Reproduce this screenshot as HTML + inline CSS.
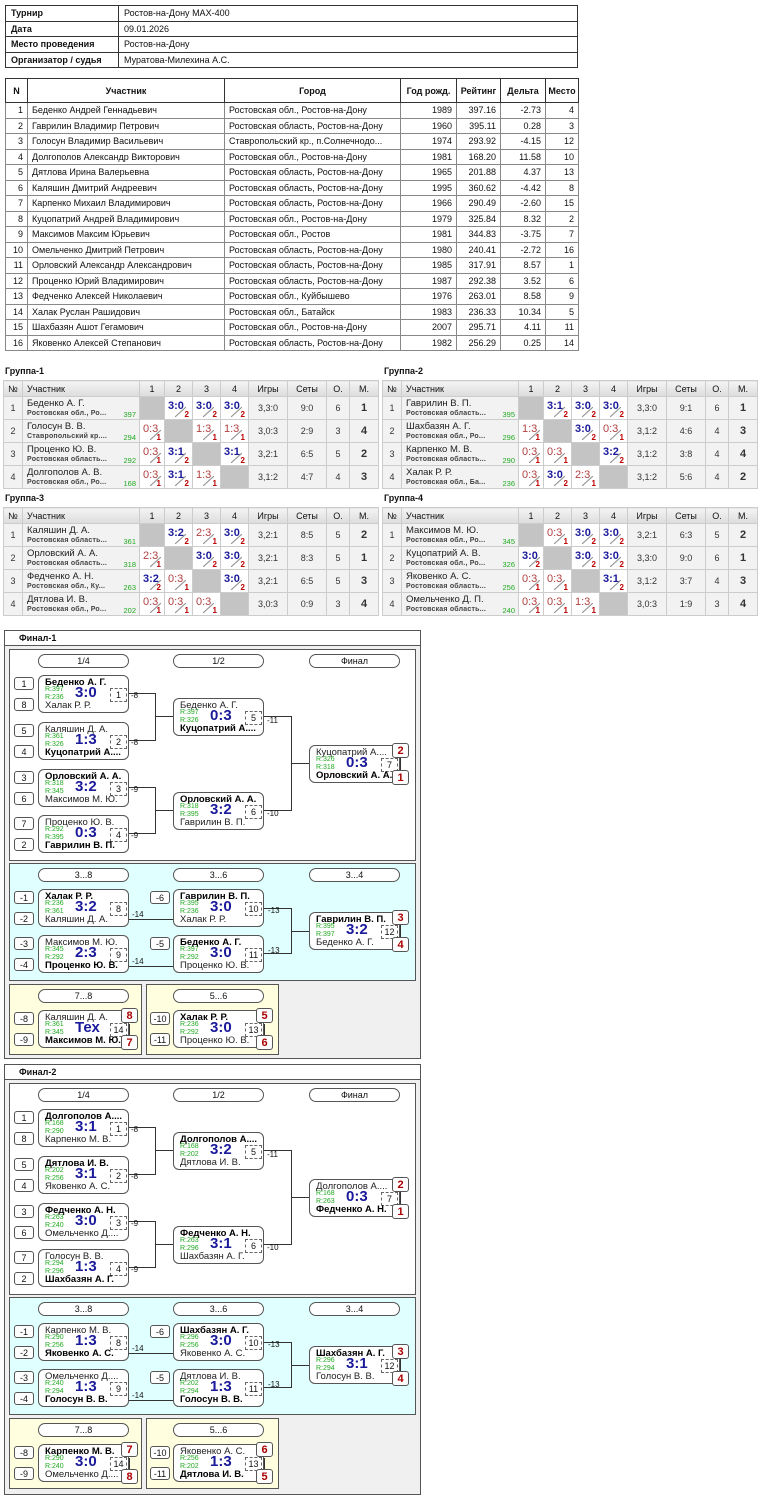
<!DOCTYPE html>
<html><head><meta charset="utf-8"><style>
*{box-sizing:border-box}
body{margin:0;width:759px;height:1499px;position:relative;background:#fff;font-family:"Liberation Sans",Arial,sans-serif;color:#111;overflow:hidden}
table{border-collapse:collapse;table-layout:fixed;position:absolute;font-size:9px}
.t1 td{border:1px solid #333;height:15.5px;padding:0 5px}
.t2 td{border:1px solid #888;height:15.5px;padding:0 4px;white-space:nowrap;overflow:hidden}
.t2 th{border:1px solid #333;height:24px;font-weight:bold}
.t2 tr td:first-child{text-align:right}
.r{text-align:right}.c{text-align:center}
.gt{position:absolute;font-size:9px;font-weight:bold}
.g td,.g th{border:1px solid #ccc;padding:0}
.g th{height:16px;background:linear-gradient(#f4f4f4,#dcdcdc);font-weight:normal;font-size:9px;text-align:center}
.g th.l{text-align:left;padding-left:4px}
.g td{height:23px;background:#f2f2f2;text-align:center;font-size:9px;color:#333}
.g td.x{background:#c4c4c4}
.g td.s{background:#fff}
.pn{text-align:left!important;position:relative;padding-left:4px!important}
.pn div{position:absolute;left:4px;top:1px;font-size:9.5px;color:#222}
.pn span{position:absolute;left:4px;top:13px;font-size:7px;font-weight:bold;color:#444;letter-spacing:.2px}
.pn em{position:absolute;right:3px;top:13px;font-size:7.5px;color:#2a2;font-style:normal}
.cc{position:relative;height:22px}
.cc b{position:absolute;left:3px;top:3px;font-size:11px}
.cc u{position:absolute;right:3px;bottom:0;font-size:8px;color:#b00;font-weight:bold;text-decoration:none}
.cc i{position:absolute;left:10px;top:10px;width:11px;height:10px;background:linear-gradient(to bottom right,transparent 44%,#777 50%,transparent 56%)}
.W b{color:#1a1a9a}.L b{color:#b04040;font-weight:normal}
.mm{color:#1a1a9a;font-weight:bold;font-size:11px!important}
.box{position:absolute;border:1px solid #555}
.m{position:absolute;width:91px;height:38px;border:1px solid #555;border-radius:6px;background:#fff;font-size:9.5px}
.m span{position:absolute;left:6px;white-space:nowrap;color:#222;line-height:11px}
.m .a{top:1px}.m .b{top:24px}.m .w{font-weight:bold;color:#000}
.m i{position:absolute;left:6px;font-size:7px;line-height:8px;color:#2a2;font-style:normal}
.m .r1{top:10px}.m .r2{top:18px}
.m .sc{position:absolute;left:36px;top:8px;font-size:15px;line-height:17px;font-weight:bold;color:#1a1a9a}
.m .mn{position:absolute;left:71px;top:12px;width:17px;height:14px;border:1px dashed #666;font-size:9px;text-align:center;line-height:13px}
.sd{position:absolute;width:20px;height:13px;border:1px solid #555;border-radius:3px;background:#fff;font-size:9px;text-align:center;line-height:12px}
.pl{position:absolute;width:91px;height:14px;border:1px solid #555;border-radius:7px;background:#fff;font-size:9px;text-align:center;line-height:13px}
.rs{position:absolute;width:17px;height:15px;border:1px solid #555;border-radius:3px;background:#fff;color:#a00;font-weight:bold;font-size:11px;text-align:center;line-height:14px}
svg{position:absolute;left:0;top:0}
</style></head><body>

<table class="t1" style="left:5px;top:5px;width:573px">
<col style="width:113px"><col>
<tr><td><b>Турнир</b></td><td>Ростов-на-Дону MAX-400</td></tr>
<tr><td><b>Дата</b></td><td>09.01.2026</td></tr>
<tr><td><b>Место проведения</b></td><td>Ростов-на-Дону</td></tr>
<tr><td><b>Организатор / судья</b></td><td>Муратова-Милехина А.С.</td></tr>
</table>

<table class="t2" style="left:5px;top:78px;width:573px">
<col style="width:22px"><col style="width:197px"><col style="width:176px"><col style="width:56px"><col style="width:44px"><col style="width:45px"><col style="width:33px">
<tr><th>N</th><th>Участник</th><th>Город</th><th>Год рожд.</th><th>Рейтинг</th><th>Дельта</th><th>Место</th></tr>
<tr><td>1</td><td>Беденко Андрей Геннадьевич</td><td>Ростовская обл., Ростов-на-Дону</td><td class="r">1989</td><td class="r">397.16</td><td class="r">-2.73</td><td class="r">4</td></tr>
<tr><td>2</td><td>Гаврилин Владимир Петрович</td><td>Ростовская область, Ростов-на-Дону</td><td class="r">1960</td><td class="r">395.11</td><td class="r">0.28</td><td class="r">3</td></tr>
<tr><td>3</td><td>Голосун Владимир Васильевич</td><td>Ставропольский кр., п.Солнечнодо...</td><td class="r">1974</td><td class="r">293.92</td><td class="r">-4.15</td><td class="r">12</td></tr>
<tr><td>4</td><td>Долгополов Александр Викторович</td><td>Ростовская обл., Ростов-на-Дону</td><td class="r">1981</td><td class="r">168.20</td><td class="r">11.58</td><td class="r">10</td></tr>
<tr><td>5</td><td>Дятлова Ирина Валерьевна</td><td>Ростовская область, Ростов-на-Дону</td><td class="r">1965</td><td class="r">201.88</td><td class="r">4.37</td><td class="r">13</td></tr>
<tr><td>6</td><td>Каляшин Дмитрий Андреевич</td><td>Ростовская область, Ростов-на-Дону</td><td class="r">1995</td><td class="r">360.62</td><td class="r">-4.42</td><td class="r">8</td></tr>
<tr><td>7</td><td>Карпенко Михаил Владимирович</td><td>Ростовская область, Ростов-на-Дону</td><td class="r">1966</td><td class="r">290.49</td><td class="r">-2.60</td><td class="r">15</td></tr>
<tr><td>8</td><td>Куцопатрий Андрей Владимирович</td><td>Ростовская обл., Ростов-на-Дону</td><td class="r">1979</td><td class="r">325.84</td><td class="r">8.32</td><td class="r">2</td></tr>
<tr><td>9</td><td>Максимов Максим Юрьевич</td><td>Ростовская обл., Ростов</td><td class="r">1981</td><td class="r">344.83</td><td class="r">-3.75</td><td class="r">7</td></tr>
<tr><td>10</td><td>Омельченко Дмитрий Петрович</td><td>Ростовская область, Ростов-на-Дону</td><td class="r">1980</td><td class="r">240.41</td><td class="r">-2.72</td><td class="r">16</td></tr>
<tr><td>11</td><td>Орловский Александр Александрович</td><td>Ростовская область, Ростов-на-Дону</td><td class="r">1985</td><td class="r">317.91</td><td class="r">8.57</td><td class="r">1</td></tr>
<tr><td>12</td><td>Проценко Юрий Владимирович</td><td>Ростовская область, Ростов-на-Дону</td><td class="r">1987</td><td class="r">292.38</td><td class="r">3.52</td><td class="r">6</td></tr>
<tr><td>13</td><td>Федченко Алексей Николаевич</td><td>Ростовская обл., Куйбышево</td><td class="r">1976</td><td class="r">263.01</td><td class="r">8.58</td><td class="r">9</td></tr>
<tr><td>14</td><td>Халак Руслан Рашидович</td><td>Ростовская обл., Батайск</td><td class="r">1983</td><td class="r">236.33</td><td class="r">10.34</td><td class="r">5</td></tr>
<tr><td>15</td><td>Шахбазян Ашот Гегамович</td><td>Ростовская обл., Ростов-на-Дону</td><td class="r">2007</td><td class="r">295.71</td><td class="r">4.11</td><td class="r">11</td></tr>
<tr><td>16</td><td>Яковенко Алексей Степанович</td><td>Ростовская область, Ростов-на-Дону</td><td class="r">1982</td><td class="r">256.29</td><td class="r">0.25</td><td class="r">14</td></tr>
</table>

<div class="gt" style="left:5px;top:366px">Группа-1</div>
<table class="g" style="left:3px;top:380px;width:375px">
<col style="width:19px"><col style="width:117px"><col style="width:25px"><col style="width:28px"><col style="width:28px"><col style="width:28px"><col style="width:39px"><col style="width:39px"><col style="width:23px"><col style="width:29px">
<tr><th>№</th><th class="l">Участник</th><th>1</th><th>2</th><th>3</th><th>4</th><th>Игры</th><th>Сеты</th><th>О.</th><th>М.</th></tr>
<tr><td>1</td><td class="pn"><div>Беденко А. Г.</div><span>Ростовская обл., Ро...</span><em>397</em></td><td class="x"></td><td class="s"><div class="cc W"><b>3:0</b><i></i><u>2</u></div></td><td class="s"><div class="cc W"><b>3:0</b><i></i><u>2</u></div></td><td class="s"><div class="cc W"><b>3:0</b><i></i><u>2</u></div></td><td>3,3:0</td><td>9:0</td><td>6</td><td class="mm">1</td></tr>
<tr><td>2</td><td class="pn"><div>Голосун В. В.</div><span>Ставропольский кр....</span><em>294</em></td><td class="s"><div class="cc L"><b>0:3</b><i></i><u>1</u></div></td><td class="x"></td><td class="s"><div class="cc L"><b>1:3</b><i></i><u>1</u></div></td><td class="s"><div class="cc L"><b>1:3</b><i></i><u>1</u></div></td><td>3,0:3</td><td>2:9</td><td>3</td><td class="mm">4</td></tr>
<tr><td>3</td><td class="pn"><div>Проценко Ю. В.</div><span>Ростовская область...</span><em>292</em></td><td class="s"><div class="cc L"><b>0:3</b><i></i><u>1</u></div></td><td class="s"><div class="cc W"><b>3:1</b><i></i><u>2</u></div></td><td class="x"></td><td class="s"><div class="cc W"><b>3:1</b><i></i><u>2</u></div></td><td>3,2:1</td><td>6:5</td><td>5</td><td class="mm">2</td></tr>
<tr><td>4</td><td class="pn"><div>Долгополов А. В.</div><span>Ростовская обл., Ро...</span><em>168</em></td><td class="s"><div class="cc L"><b>0:3</b><i></i><u>1</u></div></td><td class="s"><div class="cc W"><b>3:1</b><i></i><u>2</u></div></td><td class="s"><div class="cc L"><b>1:3</b><i></i><u>1</u></div></td><td class="x"></td><td>3,1:2</td><td>4:7</td><td>4</td><td class="mm">3</td></tr>
</table>

<div class="gt" style="left:384px;top:366px">Группа-2</div>
<table class="g" style="left:382px;top:380px;width:375px">
<col style="width:19px"><col style="width:117px"><col style="width:25px"><col style="width:28px"><col style="width:28px"><col style="width:28px"><col style="width:39px"><col style="width:39px"><col style="width:23px"><col style="width:29px">
<tr><th>№</th><th class="l">Участник</th><th>1</th><th>2</th><th>3</th><th>4</th><th>Игры</th><th>Сеты</th><th>О.</th><th>М.</th></tr>
<tr><td>1</td><td class="pn"><div>Гаврилин В. П.</div><span>Ростовская область...</span><em>395</em></td><td class="x"></td><td class="s"><div class="cc W"><b>3:1</b><i></i><u>2</u></div></td><td class="s"><div class="cc W"><b>3:0</b><i></i><u>2</u></div></td><td class="s"><div class="cc W"><b>3:0</b><i></i><u>2</u></div></td><td>3,3:0</td><td>9:1</td><td>6</td><td class="mm">1</td></tr>
<tr><td>2</td><td class="pn"><div>Шахбазян А. Г.</div><span>Ростовская обл., Ро...</span><em>296</em></td><td class="s"><div class="cc L"><b>1:3</b><i></i><u>1</u></div></td><td class="x"></td><td class="s"><div class="cc W"><b>3:0</b><i></i><u>2</u></div></td><td class="s"><div class="cc L"><b>0:3</b><i></i><u>1</u></div></td><td>3,1:2</td><td>4:6</td><td>4</td><td class="mm">3</td></tr>
<tr><td>3</td><td class="pn"><div>Карпенко М. В.</div><span>Ростовская область...</span><em>290</em></td><td class="s"><div class="cc L"><b>0:3</b><i></i><u>1</u></div></td><td class="s"><div class="cc L"><b>0:3</b><i></i><u>1</u></div></td><td class="x"></td><td class="s"><div class="cc W"><b>3:2</b><i></i><u>2</u></div></td><td>3,1:2</td><td>3:8</td><td>4</td><td class="mm">4</td></tr>
<tr><td>4</td><td class="pn"><div>Халак Р. Р.</div><span>Ростовская обл., Ба...</span><em>236</em></td><td class="s"><div class="cc L"><b>0:3</b><i></i><u>1</u></div></td><td class="s"><div class="cc W"><b>3:0</b><i></i><u>2</u></div></td><td class="s"><div class="cc L"><b>2:3</b><i></i><u>1</u></div></td><td class="x"></td><td>3,1:2</td><td>5:6</td><td>4</td><td class="mm">2</td></tr>
</table>

<div class="gt" style="left:5px;top:493px">Группа-3</div>
<table class="g" style="left:3px;top:507px;width:375px">
<col style="width:19px"><col style="width:117px"><col style="width:25px"><col style="width:28px"><col style="width:28px"><col style="width:28px"><col style="width:39px"><col style="width:39px"><col style="width:23px"><col style="width:29px">
<tr><th>№</th><th class="l">Участник</th><th>1</th><th>2</th><th>3</th><th>4</th><th>Игры</th><th>Сеты</th><th>О.</th><th>М.</th></tr>
<tr><td>1</td><td class="pn"><div>Каляшин Д. А.</div><span>Ростовская область...</span><em>361</em></td><td class="x"></td><td class="s"><div class="cc W"><b>3:2</b><i></i><u>2</u></div></td><td class="s"><div class="cc L"><b>2:3</b><i></i><u>1</u></div></td><td class="s"><div class="cc W"><b>3:0</b><i></i><u>2</u></div></td><td>3,2:1</td><td>8:5</td><td>5</td><td class="mm">2</td></tr>
<tr><td>2</td><td class="pn"><div>Орловский А. А.</div><span>Ростовская область...</span><em>318</em></td><td class="s"><div class="cc L"><b>2:3</b><i></i><u>1</u></div></td><td class="x"></td><td class="s"><div class="cc W"><b>3:0</b><i></i><u>2</u></div></td><td class="s"><div class="cc W"><b>3:0</b><i></i><u>2</u></div></td><td>3,2:1</td><td>8:3</td><td>5</td><td class="mm">1</td></tr>
<tr><td>3</td><td class="pn"><div>Федченко А. Н.</div><span>Ростовская обл., Ку...</span><em>263</em></td><td class="s"><div class="cc W"><b>3:2</b><i></i><u>2</u></div></td><td class="s"><div class="cc L"><b>0:3</b><i></i><u>1</u></div></td><td class="x"></td><td class="s"><div class="cc W"><b>3:0</b><i></i><u>2</u></div></td><td>3,2:1</td><td>6:5</td><td>5</td><td class="mm">3</td></tr>
<tr><td>4</td><td class="pn"><div>Дятлова И. В.</div><span>Ростовская обл., Ро...</span><em>202</em></td><td class="s"><div class="cc L"><b>0:3</b><i></i><u>1</u></div></td><td class="s"><div class="cc L"><b>0:3</b><i></i><u>1</u></div></td><td class="s"><div class="cc L"><b>0:3</b><i></i><u>1</u></div></td><td class="x"></td><td>3,0:3</td><td>0:9</td><td>3</td><td class="mm">4</td></tr>
</table>

<div class="gt" style="left:384px;top:493px">Группа-4</div>
<table class="g" style="left:382px;top:507px;width:375px">
<col style="width:19px"><col style="width:117px"><col style="width:25px"><col style="width:28px"><col style="width:28px"><col style="width:28px"><col style="width:39px"><col style="width:39px"><col style="width:23px"><col style="width:29px">
<tr><th>№</th><th class="l">Участник</th><th>1</th><th>2</th><th>3</th><th>4</th><th>Игры</th><th>Сеты</th><th>О.</th><th>М.</th></tr>
<tr><td>1</td><td class="pn"><div>Максимов М. Ю.</div><span>Ростовская обл., Ро...</span><em>345</em></td><td class="x"></td><td class="s"><div class="cc L"><b>0:3</b><i></i><u>1</u></div></td><td class="s"><div class="cc W"><b>3:0</b><i></i><u>2</u></div></td><td class="s"><div class="cc W"><b>3:0</b><i></i><u>2</u></div></td><td>3,2:1</td><td>6:3</td><td>5</td><td class="mm">2</td></tr>
<tr><td>2</td><td class="pn"><div>Куцопатрий А. В.</div><span>Ростовская обл., Ро...</span><em>326</em></td><td class="s"><div class="cc W"><b>3:0</b><i></i><u>2</u></div></td><td class="x"></td><td class="s"><div class="cc W"><b>3:0</b><i></i><u>2</u></div></td><td class="s"><div class="cc W"><b>3:0</b><i></i><u>2</u></div></td><td>3,3:0</td><td>9:0</td><td>6</td><td class="mm">1</td></tr>
<tr><td>3</td><td class="pn"><div>Яковенко А. С.</div><span>Ростовская область...</span><em>256</em></td><td class="s"><div class="cc L"><b>0:3</b><i></i><u>1</u></div></td><td class="s"><div class="cc L"><b>0:3</b><i></i><u>1</u></div></td><td class="x"></td><td class="s"><div class="cc W"><b>3:1</b><i></i><u>2</u></div></td><td>3,1:2</td><td>3:7</td><td>4</td><td class="mm">3</td></tr>
<tr><td>4</td><td class="pn"><div>Омельченко Д. П.</div><span>Ростовская область...</span><em>240</em></td><td class="s"><div class="cc L"><b>0:3</b><i></i><u>1</u></div></td><td class="s"><div class="cc L"><b>0:3</b><i></i><u>1</u></div></td><td class="s"><div class="cc L"><b>1:3</b><i></i><u>1</u></div></td><td class="x"></td><td>3,0:3</td><td>1:9</td><td>3</td><td class="mm">4</td></tr>
</table>

<!-- Final panels -->
<div class="box" style="left:4px;top:630px;width:417px;height:429px;background:#f0f0f0"></div>
<div class="box" style="left:4px;top:630px;width:417px;height:16px;background:#fff;font-size:9px;font-weight:bold;padding:2px 0 0 14px">Финал-1</div>
<div class="box" style="left:9px;top:649px;width:407px;height:212px;background:#fff"></div>
<div class="box" style="left:9px;top:863px;width:407px;height:118px;background:#e0ffff"></div>
<div class="box" style="left:9px;top:984px;width:133px;height:71px;background:#ffffe0"></div>
<div class="box" style="left:146px;top:984px;width:133px;height:71px;background:#ffffe0"></div>

<div class="box" style="left:4px;top:1064px;width:417px;height:431px;background:#f0f0f0"></div>
<div class="box" style="left:4px;top:1064px;width:417px;height:16px;background:#fff;font-size:9px;font-weight:bold;padding:2px 0 0 14px">Финал-2</div>
<div class="box" style="left:9px;top:1083px;width:407px;height:212px;background:#fff"></div>
<div class="box" style="left:9px;top:1297px;width:407px;height:118px;background:#e0ffff"></div>
<div class="box" style="left:9px;top:1418px;width:133px;height:71px;background:#ffffe0"></div>
<div class="box" style="left:146px;top:1418px;width:133px;height:71px;background:#ffffe0"></div>

<svg width="759" height="1499" stroke="#333" stroke-width="1" fill="none" font-family="Liberation Sans, sans-serif" font-size="8">
<g>
<path d="M129,693.5H155.5V740.5H129M155.5,716.5H173M129,787.5H155.5V833.5H129M155.5,810.5H173M264,716.5H291.5V810.5H264M291.5,763.5H309"/>
<path d="M129,919.5H173M129,966.5H173M264,908.5H291.5V953.5H264M291.5,931.5H309"/>
<path d="M400.5,757V770M400.5,924V937M129.5,1024V1035M264.5,1024V1035"/>
</g>
<g transform="translate(0,434)">
<path d="M129,693.5H155.5V740.5H129M155.5,716.5H173M129,787.5H155.5V833.5H129M155.5,810.5H173M264,716.5H291.5V810.5H264M291.5,763.5H309"/>
<path d="M129,919.5H173M129,966.5H173M264,908.5H291.5V953.5H264M291.5,931.5H309"/>
<path d="M400.5,757V770M400.5,924V937M129.5,1024V1035M264.5,1024V1035"/>
</g>
<g fill="#111" stroke="none">
<text x="131" y="698">-8</text><text x="131" y="745">-8</text><text x="131" y="792">-9</text><text x="131" y="838">-9</text>
<text x="267" y="723">-11</text><text x="267" y="816">-10</text>
<text x="132" y="917">-14</text><text x="132" y="964">-14</text>
<text x="268" y="913">-13</text><text x="268" y="953">-13</text>
</g>
<g fill="#111" stroke="none" transform="translate(0,434)">
<text x="131" y="698">-8</text><text x="131" y="745">-8</text><text x="131" y="792">-9</text><text x="131" y="838">-9</text>
<text x="267" y="723">-11</text><text x="267" y="816">-10</text>
<text x="132" y="917">-14</text><text x="132" y="964">-14</text>
<text x="268" y="913">-13</text><text x="268" y="953">-13</text>
</g>
</svg>

<!-- Final-1 -->
<div class="pl" style="left:38px;top:654px">1/4</div><div class="pl" style="left:173px;top:654px">1/2</div><div class="pl" style="left:309px;top:654px">Финал</div>
<div class="sd" style="left:14px;top:677px">1</div><div class="sd" style="left:14px;top:698px">8</div>
<div class="sd" style="left:14px;top:724px">5</div><div class="sd" style="left:14px;top:745px">4</div>
<div class="sd" style="left:14px;top:771px">3</div><div class="sd" style="left:14px;top:792px">6</div>
<div class="sd" style="left:14px;top:817px">7</div><div class="sd" style="left:14px;top:838px">2</div>
<div class="m" style="left:38px;top:675px"><span class="a w">Беденко А. Г.</span><i class="r1">R:397</i><i class="r2">R:236</i><div class="sc">3:0</div><div class="mn">1</div><span class="b">Халак Р. Р.</span></div>
<div class="m" style="left:38px;top:722px"><span class="a">Каляшин Д. А.</span><i class="r1">R:361</i><i class="r2">R:326</i><div class="sc">1:3</div><div class="mn">2</div><span class="b w">Куцопатрий А....</span></div>
<div class="m" style="left:38px;top:769px"><span class="a w">Орловский А. А.</span><i class="r1">R:318</i><i class="r2">R:345</i><div class="sc">3:2</div><div class="mn">3</div><span class="b">Максимов М. Ю.</span></div>
<div class="m" style="left:38px;top:815px"><span class="a">Проценко Ю. В.</span><i class="r1">R:292</i><i class="r2">R:395</i><div class="sc">0:3</div><div class="mn">4</div><span class="b w">Гаврилин В. П.</span></div>
<div class="m" style="left:173px;top:698px"><span class="a">Беденко А. Г.</span><i class="r1">R:397</i><i class="r2">R:326</i><div class="sc">0:3</div><div class="mn">5</div><span class="b w">Куцопатрий А....</span></div>
<div class="m" style="left:173px;top:792px"><span class="a w">Орловский А. А.</span><i class="r1">R:318</i><i class="r2">R:395</i><div class="sc">3:2</div><div class="mn">6</div><span class="b">Гаврилин В. П.</span></div>
<div class="m" style="left:309px;top:745px"><span class="a">Куцопатрий А....</span><i class="r1">R:326</i><i class="r2">R:318</i><div class="sc">0:3</div><div class="mn">7</div><span class="b w">Орловский А. А.</span></div>
<div class="rs" style="left:392px;top:743px">2</div><div class="rs" style="left:392px;top:770px">1</div>

<div class="pl" style="left:38px;top:868px">3...8</div><div class="pl" style="left:173px;top:868px">3...6</div><div class="pl" style="left:309px;top:868px">3...4</div>
<div class="sd" style="left:14px;top:891px">-1</div><div class="sd" style="left:14px;top:912px">-2</div>
<div class="sd" style="left:14px;top:937px">-3</div><div class="sd" style="left:14px;top:958px">-4</div>
<div class="sd" style="left:150px;top:891px">-6</div><div class="sd" style="left:150px;top:937px">-5</div>
<div class="m" style="left:38px;top:889px"><span class="a w">Халак Р. Р.</span><i class="r1">R:236</i><i class="r2">R:361</i><div class="sc">3:2</div><div class="mn">8</div><span class="b">Каляшин Д. А.</span></div>
<div class="m" style="left:38px;top:935px"><span class="a">Максимов М. Ю.</span><i class="r1">R:345</i><i class="r2">R:292</i><div class="sc">2:3</div><div class="mn">9</div><span class="b w">Проценко Ю. В.</span></div>
<div class="m" style="left:173px;top:889px"><span class="a w">Гаврилин В. П.</span><i class="r1">R:395</i><i class="r2">R:236</i><div class="sc">3:0</div><div class="mn">10</div><span class="b">Халак Р. Р.</span></div>
<div class="m" style="left:173px;top:935px"><span class="a w">Беденко А. Г.</span><i class="r1">R:397</i><i class="r2">R:292</i><div class="sc">3:0</div><div class="mn">11</div><span class="b">Проценко Ю. В.</span></div>
<div class="m" style="left:309px;top:912px"><span class="a w">Гаврилин В. П.</span><i class="r1">R:395</i><i class="r2">R:397</i><div class="sc">3:2</div><div class="mn">12</div><span class="b">Беденко А. Г.</span></div>
<div class="rs" style="left:392px;top:910px">3</div><div class="rs" style="left:392px;top:937px">4</div>

<div class="pl" style="left:38px;top:989px">7...8</div><div class="pl" style="left:173px;top:989px">5...6</div>
<div class="sd" style="left:14px;top:1012px">-8</div><div class="sd" style="left:14px;top:1033px">-9</div>
<div class="sd" style="left:150px;top:1012px">-10</div><div class="sd" style="left:150px;top:1033px">-11</div>
<div class="m" style="left:38px;top:1010px"><span class="a">Каляшин Д. А.</span><i class="r1">R:361</i><i class="r2">R:345</i><div class="sc">Тех</div><div class="mn">14</div><span class="b w">Максимов М. Ю.</span></div>
<div class="m" style="left:173px;top:1010px"><span class="a w">Халак Р. Р.</span><i class="r1">R:236</i><i class="r2">R:292</i><div class="sc">3:0</div><div class="mn">13</div><span class="b">Проценко Ю. В.</span></div>
<div class="rs" style="left:121px;top:1008px">8</div><div class="rs" style="left:121px;top:1035px">7</div>
<div class="rs" style="left:256px;top:1008px">5</div><div class="rs" style="left:256px;top:1035px">6</div>

<!-- Final-2 -->
<div class="pl" style="left:38px;top:1088px">1/4</div><div class="pl" style="left:173px;top:1088px">1/2</div><div class="pl" style="left:309px;top:1088px">Финал</div>
<div class="sd" style="left:14px;top:1111px">1</div><div class="sd" style="left:14px;top:1132px">8</div>
<div class="sd" style="left:14px;top:1158px">5</div><div class="sd" style="left:14px;top:1179px">4</div>
<div class="sd" style="left:14px;top:1205px">3</div><div class="sd" style="left:14px;top:1226px">6</div>
<div class="sd" style="left:14px;top:1251px">7</div><div class="sd" style="left:14px;top:1272px">2</div>
<div class="m" style="left:38px;top:1109px"><span class="a w">Долгополов А....</span><i class="r1">R:168</i><i class="r2">R:290</i><div class="sc">3:1</div><div class="mn">1</div><span class="b">Карпенко М. В.</span></div>
<div class="m" style="left:38px;top:1156px"><span class="a w">Дятлова И. В.</span><i class="r1">R:202</i><i class="r2">R:256</i><div class="sc">3:1</div><div class="mn">2</div><span class="b">Яковенко А. С.</span></div>
<div class="m" style="left:38px;top:1203px"><span class="a w">Федченко А. Н.</span><i class="r1">R:263</i><i class="r2">R:240</i><div class="sc">3:0</div><div class="mn">3</div><span class="b">Омельченко Д....</span></div>
<div class="m" style="left:38px;top:1249px"><span class="a">Голосун В. В.</span><i class="r1">R:294</i><i class="r2">R:296</i><div class="sc">1:3</div><div class="mn">4</div><span class="b w">Шахбазян А. Г.</span></div>
<div class="m" style="left:173px;top:1132px"><span class="a w">Долгополов А....</span><i class="r1">R:168</i><i class="r2">R:202</i><div class="sc">3:2</div><div class="mn">5</div><span class="b">Дятлова И. В.</span></div>
<div class="m" style="left:173px;top:1226px"><span class="a w">Федченко А. Н.</span><i class="r1">R:263</i><i class="r2">R:296</i><div class="sc">3:1</div><div class="mn">6</div><span class="b">Шахбазян А. Г.</span></div>
<div class="m" style="left:309px;top:1179px"><span class="a">Долгополов А....</span><i class="r1">R:168</i><i class="r2">R:263</i><div class="sc">0:3</div><div class="mn">7</div><span class="b w">Федченко А. Н.</span></div>
<div class="rs" style="left:392px;top:1177px">2</div><div class="rs" style="left:392px;top:1204px">1</div>

<div class="pl" style="left:38px;top:1302px">3...8</div><div class="pl" style="left:173px;top:1302px">3...6</div><div class="pl" style="left:309px;top:1302px">3...4</div>
<div class="sd" style="left:14px;top:1325px">-1</div><div class="sd" style="left:14px;top:1346px">-2</div>
<div class="sd" style="left:14px;top:1371px">-3</div><div class="sd" style="left:14px;top:1392px">-4</div>
<div class="sd" style="left:150px;top:1325px">-6</div><div class="sd" style="left:150px;top:1371px">-5</div>
<div class="m" style="left:38px;top:1323px"><span class="a">Карпенко М. В.</span><i class="r1">R:290</i><i class="r2">R:256</i><div class="sc">1:3</div><div class="mn">8</div><span class="b w">Яковенко А. С.</span></div>
<div class="m" style="left:38px;top:1369px"><span class="a">Омельченко Д....</span><i class="r1">R:240</i><i class="r2">R:294</i><div class="sc">1:3</div><div class="mn">9</div><span class="b w">Голосун В. В.</span></div>
<div class="m" style="left:173px;top:1323px"><span class="a w">Шахбазян А. Г.</span><i class="r1">R:296</i><i class="r2">R:256</i><div class="sc">3:0</div><div class="mn">10</div><span class="b">Яковенко А. С.</span></div>
<div class="m" style="left:173px;top:1369px"><span class="a">Дятлова И. В.</span><i class="r1">R:202</i><i class="r2">R:294</i><div class="sc">1:3</div><div class="mn">11</div><span class="b w">Голосун В. В.</span></div>
<div class="m" style="left:309px;top:1346px"><span class="a w">Шахбазян А. Г.</span><i class="r1">R:296</i><i class="r2">R:294</i><div class="sc">3:1</div><div class="mn">12</div><span class="b">Голосун В. В.</span></div>
<div class="rs" style="left:392px;top:1344px">3</div><div class="rs" style="left:392px;top:1371px">4</div>

<div class="pl" style="left:38px;top:1423px">7...8</div><div class="pl" style="left:173px;top:1423px">5...6</div>
<div class="sd" style="left:14px;top:1446px">-8</div><div class="sd" style="left:14px;top:1467px">-9</div>
<div class="sd" style="left:150px;top:1446px">-10</div><div class="sd" style="left:150px;top:1467px">-11</div>
<div class="m" style="left:38px;top:1444px"><span class="a w">Карпенко М. В.</span><i class="r1">R:290</i><i class="r2">R:240</i><div class="sc">3:0</div><div class="mn">14</div><span class="b">Омельченко Д....</span></div>
<div class="m" style="left:173px;top:1444px"><span class="a">Яковенко А. С.</span><i class="r1">R:256</i><i class="r2">R:202</i><div class="sc">1:3</div><div class="mn">13</div><span class="b w">Дятлова И. В.</span></div>
<div class="rs" style="left:121px;top:1442px">7</div><div class="rs" style="left:121px;top:1469px">8</div>
<div class="rs" style="left:256px;top:1442px">6</div><div class="rs" style="left:256px;top:1469px">5</div>

</body></html>
